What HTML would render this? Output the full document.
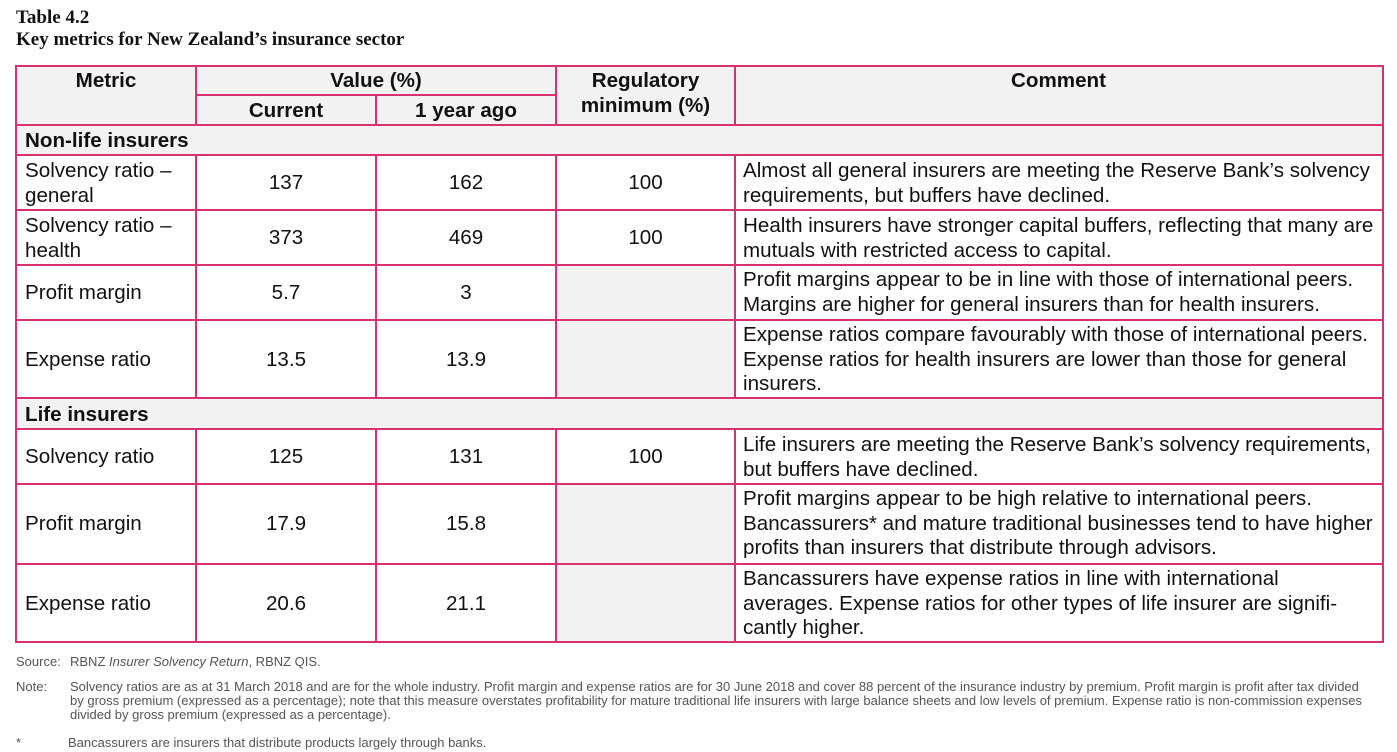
<!DOCTYPE html>
<html><head><style>
body{margin:0;width:1397px;height:752px;background:#fff;position:relative;font-family:"Liberation Sans",Arial,sans-serif;color:#111;overflow:hidden}
.a{position:absolute}
.g{position:absolute;background:#f2f2f2}
.h{position:absolute;height:2px;background:#d9306f}
.v{position:absolute;width:2px;background:#d9306f}
.t{position:absolute;font-size:20.6px;line-height:24.5px;white-space:nowrap}
.c{text-align:center}
.b{font-weight:bold}
.s{position:absolute;font-size:13px;color:#555;line-height:14px;white-space:nowrap}
</style></head><body>
<div class="a" style="left:16px;top:7px;font-family:'Liberation Serif',serif;font-weight:bold;font-size:19px;line-height:22px">Table 4.2<br>Key metrics for New Zealand’s insurance sector</div>

<div class="g" style="left:16px;top:66px;width:1366px;height:59px"></div>
<div class="g" style="left:16px;top:125px;width:1366px;height:30px"></div>
<div class="g" style="left:16px;top:398px;width:1366px;height:31px"></div>
<div class="g" style="left:556px;top:265px;width:179px;height:133px"></div>
<div class="g" style="left:556px;top:484px;width:179px;height:158px"></div>

<div class="h" style="left:16px;top:65px;width:1368px"></div>
<div class="h" style="left:196px;top:94px;width:360px"></div>
<div class="h" style="left:16px;top:124px;width:1368px"></div>
<div class="h" style="left:16px;top:154px;width:1368px"></div>
<div class="h" style="left:16px;top:209px;width:1368px"></div>
<div class="h" style="left:16px;top:264px;width:1368px"></div>
<div class="h" style="left:16px;top:319px;width:1368px"></div>
<div class="h" style="left:16px;top:397px;width:1368px"></div>
<div class="h" style="left:16px;top:428px;width:1368px"></div>
<div class="h" style="left:16px;top:483px;width:1368px"></div>
<div class="h" style="left:16px;top:563px;width:1368px"></div>
<div class="h" style="left:16px;top:641px;width:1368px"></div>

<div class="v" style="left:15px;top:65px;height:578px"></div>
<div class="v" style="left:1382px;top:65px;height:578px"></div>
<div class="v" style="left:195px;top:65px;height:60px"></div>
<div class="v" style="left:375px;top:94px;height:31px"></div>
<div class="v" style="left:555px;top:65px;height:60px"></div>
<div class="v" style="left:734px;top:65px;height:60px"></div>
<div class="v" style="left:195px;top:154px;height:244px"></div>
<div class="v" style="left:375px;top:154px;height:244px"></div>
<div class="v" style="left:555px;top:154px;height:244px"></div>
<div class="v" style="left:734px;top:154px;height:244px"></div>
<div class="v" style="left:195px;top:428px;height:214px"></div>
<div class="v" style="left:375px;top:428px;height:214px"></div>
<div class="v" style="left:555px;top:428px;height:214px"></div>
<div class="v" style="left:734px;top:428px;height:214px"></div>

<div class="t b c" style="left:16px;width:180px;top:69px">Metric</div>
<div class="t b c" style="left:196px;width:360px;top:69px">Value (%)</div>
<div class="t b c" style="left:196px;width:180px;top:99px">Current</div>
<div class="t b c" style="left:376px;width:180px;top:99px">1 year ago</div>
<div class="t b c" style="left:556px;width:179px;top:69px">Regulatory<br>minimum (%)</div>
<div class="t b c" style="left:735px;width:647px;top:69px">Comment</div>

<div class="t b" style="left:25px;top:129px">Non-life insurers</div>
<div class="t b" style="left:25px;top:403px">Life insurers</div>

<div class="t" style="left:25px;top:159px">Solvency ratio –<br>general</div>
<div class="t c" style="left:196px;width:180px;top:171px">137</div>
<div class="t c" style="left:376px;width:180px;top:171px">162</div>
<div class="t c" style="left:556px;width:179px;top:171px">100</div>
<div class="t" style="left:743px;top:159px">Almost all general insurers are meeting the Reserve Bank’s solvency<br>requirements, but buffers have declined.</div>

<div class="t" style="left:25px;top:214px">Solvency ratio –<br>health</div>
<div class="t c" style="left:196px;width:180px;top:226px">373</div>
<div class="t c" style="left:376px;width:180px;top:226px">469</div>
<div class="t c" style="left:556px;width:179px;top:226px">100</div>
<div class="t" style="left:743px;top:214px">Health insurers have stronger capital buffers, reflecting that many are<br>mutuals with restricted access to capital.</div>

<div class="t" style="left:25px;top:281px">Profit margin</div>
<div class="t c" style="left:196px;width:180px;top:281px">5.7</div>
<div class="t c" style="left:376px;width:180px;top:281px">3</div>
<div class="t" style="left:743px;top:268px">Profit margins appear to be in line with those of international peers.<br>Margins are higher for general insurers than for health insurers.</div>

<div class="t" style="left:25px;top:348px">Expense ratio</div>
<div class="t c" style="left:196px;width:180px;top:348px">13.5</div>
<div class="t c" style="left:376px;width:180px;top:348px">13.9</div>
<div class="t" style="left:743px;top:323px">Expense ratios compare favourably with those of international peers.<br>Expense ratios for health insurers are lower than those for general<br>insurers.</div>

<div class="t" style="left:25px;top:445px">Solvency ratio</div>
<div class="t c" style="left:196px;width:180px;top:445px">125</div>
<div class="t c" style="left:376px;width:180px;top:445px">131</div>
<div class="t c" style="left:556px;width:179px;top:445px">100</div>
<div class="t" style="left:743px;top:433px">Life insurers are meeting the Reserve Bank’s solvency requirements,<br>but buffers have declined.</div>

<div class="t" style="left:25px;top:512px">Profit margin</div>
<div class="t c" style="left:196px;width:180px;top:512px">17.9</div>
<div class="t c" style="left:376px;width:180px;top:512px">15.8</div>
<div class="t" style="left:743px;top:487px">Profit margins appear to be high relative to international peers.<br>Bancassurers* and mature traditional businesses tend to have higher<br>profits than insurers that distribute through advisors.</div>

<div class="t" style="left:25px;top:592px">Expense ratio</div>
<div class="t c" style="left:196px;width:180px;top:592px">20.6</div>
<div class="t c" style="left:376px;width:180px;top:592px">21.1</div>
<div class="t" style="left:743px;top:567px">Bancassurers have expense ratios in line with international<br>averages. Expense ratios for other types of life insurer are signifi-<br>cantly higher.</div>

<div class="s" style="left:16px;top:655px">Source:</div>
<div class="s" style="left:70px;top:655px">RBNZ <i>Insurer Solvency Return</i>, RBNZ QIS.</div>
<div class="s" style="left:16px;top:680px">Note:</div>
<div class="s" style="left:70px;top:680px">Solvency ratios are as at 31 March 2018 and are for the whole industry. Profit margin and expense ratios are for 30 June 2018 and cover 88 percent of the insurance industry by premium. Profit margin is profit after tax divided<br>by gross premium (expressed as a percentage); note that this measure overstates profitability for mature traditional life insurers with large balance sheets and low levels of premium. Expense ratio is non-commission expenses<br>divided by gross premium (expressed as a percentage).</div>
<div class="s" style="left:16px;top:736px">*</div>
<div class="s" style="left:68px;top:736px">Bancassurers are insurers that distribute products largely through banks.</div>
</body></html>
